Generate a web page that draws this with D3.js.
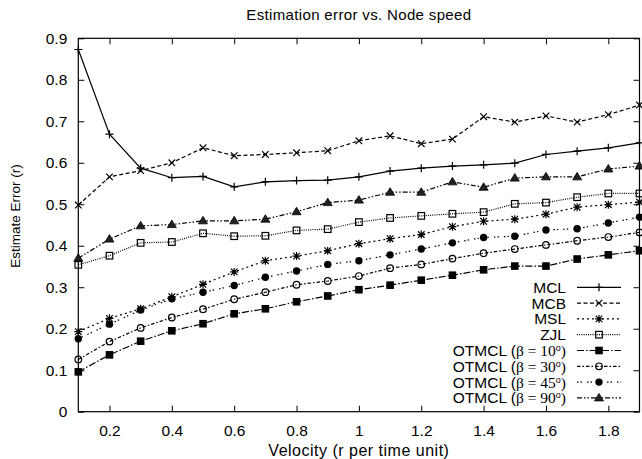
<!DOCTYPE html>
<html><head><meta charset="utf-8">
<script src="https://cdn.jsdelivr.net/npm/d3@7"></script>
<style>body{margin:0;background:#fff}</style>
</head><body>
<script>
const velocity = [0.1,0.2,0.3,0.4,0.5,0.6,0.7,0.8,0.9,1.0,1.1,1.2,1.3,1.4,1.5,1.6,1.7,1.8,1.9];
const MCL    = [0.873,0.669,0.587,0.564,0.567,0.542,0.554,0.557,0.558,0.566,0.580,0.587,0.592,0.595,0.599,0.620,0.628,0.636,0.648];
const MCB    = [0.498,0.566,0.581,0.600,0.636,0.617,0.620,0.624,0.629,0.653,0.665,0.646,0.657,0.711,0.698,0.713,0.698,0.716,0.739];
const MSL    = [0.193,0.225,0.248,0.277,0.307,0.337,0.364,0.375,0.388,0.405,0.417,0.427,0.446,0.459,0.464,0.476,0.493,0.499,0.505];
const ZJL    = [0.354,0.376,0.407,0.409,0.430,0.423,0.424,0.437,0.440,0.457,0.467,0.472,0.477,0.481,0.501,0.504,0.517,0.526,0.526];
const OT10   = [0.096,0.137,0.170,0.195,0.212,0.236,0.248,0.265,0.279,0.294,0.305,0.317,0.329,0.342,0.351,0.351,0.368,0.378,0.388];
const OT30   = [0.126,0.169,0.202,0.227,0.247,0.271,0.288,0.306,0.315,0.327,0.346,0.355,0.369,0.382,0.392,0.402,0.412,0.421,0.432];
const OT45   = [0.176,0.211,0.245,0.272,0.288,0.304,0.324,0.339,0.355,0.364,0.378,0.392,0.407,0.420,0.423,0.438,0.441,0.455,0.469];
const OT90   = [0.370,0.416,0.448,0.451,0.460,0.460,0.464,0.482,0.504,0.510,0.529,0.529,0.554,0.541,0.563,0.566,0.566,0.585,0.592];
const seriesNames = ["MCL","MCB","MSL","ZJL","OTMCL10","OTMCL30","OTMCL45","OTMCL90"];
const betaLabels = {OTMCL10:"10",OTMCL30:"30",OTMCL45:"45",OTMCL90:"90"};
const xTicks = [0.2,0.4,0.6,0.8,1.0,1.2,1.4,1.6,1.8];
const yTicks = [0,0.1,0.2,0.3,0.4,0.5,0.6,0.7,0.8,0.9];
const title = "Estimation error vs. Node speed";
const xLabel = "Velocity (r per time unit)";
const yLabel = "Estimate Error (r)";

const dataBy = {MCL, MCB, MSL, ZJL, OTMCL10: OT10, OTMCL30: OT30, OTMCL45: OT45, OTMCL90: OT90};
const style = {
  MCL:     {dash: null,               marker: "plus"},
  MCB:     {dash: "4,2.5",            marker: "cross"},
  MSL:     {dash: "2,3",              marker: "star"},
  ZJL:     {dash: "1,1.2",            marker: "square"},
  OTMCL10: {dash: "7,2,1.5,2",        marker: "fsquare"},
  OTMCL30: {dash: "3.5,2,1.5,2",      marker: "circle"},
  OTMCL45: {dash: "1.5,2,1.5,5",      marker: "fcircle"},
  OTMCL90: {dash: "5,2,1.5,2,1.5,2",  marker: "ftriangle"}
};

const W = 642, H = 459;
const m = {left: 78.3, right: 2.5, top: 38.3, bottom: 47.3};
const svg = d3.select("body").append("svg").attr("width", W).attr("height", H)
  .style("font-family", "'Liberation Sans', Arial, sans-serif");

const x = d3.scaleLinear().domain([0.1, 1.9]).range([m.left, W - m.right]);
const y = d3.scaleLinear().domain([0, 0.9]).range([H - m.bottom, m.top]);

const fmt = d => d === 0 ? "0" : (d === 1 ? "1" : d3.format(".1f")(d));
const gx = svg.append("g").attr("transform", `translate(0,${y(0)})`)
  .call(d3.axisBottom(x).tickValues(xTicks).tickSizeInner(-6).tickSizeOuter(0).tickPadding(13).tickFormat(fmt));
const gxt = svg.append("g").attr("transform", `translate(0,${y(0.9)})`)
  .call(d3.axisTop(x).tickValues(xTicks).tickSizeInner(-6).tickSizeOuter(0).tickFormat(""));
const gy = svg.append("g").attr("transform", `translate(${x(0.1)},0)`)
  .call(d3.axisLeft(y).tickValues(yTicks).tickSizeInner(-6).tickSizeOuter(0).tickPadding(11).tickFormat(fmt));
const gyr = svg.append("g").attr("transform", `translate(${x(1.9)},0)`)
  .call(d3.axisRight(y).tickValues(yTicks).tickSizeInner(-6).tickSizeOuter(0).tickFormat(""));
[gx, gxt, gy, gyr].forEach(g => {
  g.select(".domain").remove();
  g.selectAll("line").attr("stroke", "#000").attr("stroke-width", 1);
  g.selectAll("text").attr("fill", "#000").style("font-size", "15.5px").style("font-family", "'Liberation Sans', Arial, sans-serif");
});
svg.append("rect").attr("x", x(0.1)).attr("y", y(0.9))
  .attr("width", x(1.9) - x(0.1)).attr("height", y(0) - y(0.9))
  .attr("fill", "none").attr("stroke", "#000").attr("stroke-width", 1.2);

svg.append("text").attr("x", (x(0.1) + x(1.9)) / 2).attr("y", 20).attr("text-anchor", "middle")
  .style("font-size", "15px").style("letter-spacing", "0.35px").text(title);
svg.append("text").attr("x", (x(0.1) + x(1.9)) / 2).attr("y", 456).attr("text-anchor", "middle")
  .style("font-size", "16px").style("letter-spacing", "0.5px").text(xLabel);
svg.append("text").attr("transform", `translate(20,216) rotate(-90)`).attr("text-anchor", "middle")
  .style("font-size", "13.5px").text(yLabel);

function drawMarker(g, type, cx, cy) {
  const s = 4;
  if (type === "plus") {
    g.append("path").attr("d", `M${cx - s},${cy}H${cx + s}M${cx},${cy - s}V${cy + s}`).attr("stroke", "#000").attr("stroke-width", 1.2);
  } else if (type === "cross") {
    const c = 3.3;
    g.append("path").attr("d", `M${cx - c},${cy - c}L${cx + c},${cy + c}M${cx - c},${cy + c}L${cx + c},${cy - c}`).attr("stroke", "#000").attr("stroke-width", 1.2);
  } else if (type === "star") {
    const c = 3.3;
    g.append("path").attr("d", `M${cx - s},${cy}H${cx + s}M${cx},${cy - s}V${cy + s}M${cx - c},${cy - c}L${cx + c},${cy + c}M${cx - c},${cy + c}L${cx + c},${cy - c}`).attr("stroke", "#000").attr("stroke-width", 1.2);
  } else if (type === "square") {
    g.append("rect").attr("x", cx - 3.3).attr("y", cy - 3.3).attr("width", 6.6).attr("height", 6.6).attr("fill", "none").attr("stroke", "#000").attr("stroke-width", 1.2);
  } else if (type === "fsquare") {
    g.append("rect").attr("x", cx - 3.8).attr("y", cy - 3.8).attr("width", 7.6).attr("height", 7.6).attr("fill", "#000");
  } else if (type === "circle") {
    g.append("circle").attr("cx", cx).attr("cy", cy).attr("r", 3.3).attr("fill", "none").attr("stroke", "#000").attr("stroke-width", 1.2);
  } else if (type === "fcircle") {
    g.append("circle").attr("cx", cx).attr("cy", cy).attr("r", 3.7).attr("fill", "#000");
  } else if (type === "ftriangle") {
    g.append("path").attr("d", `M${cx},${cy - 4.5}L${cx + 4.5},${cy + 3}L${cx - 4.5},${cy + 3}Z`).attr("fill", "#222").attr("stroke", "#000").attr("stroke-width", 0.8);
  }
}

const line = d3.line().x((d, i) => x(velocity[i])).y(d => y(d));
const plot = svg.append("g");
seriesNames.slice().reverse().forEach(name => {
  const st = style[name];
  const g = plot.append("g");
  g.append("path").datum(dataBy[name]).attr("d", line).attr("fill", "none")
    .attr("stroke", "#000").attr("stroke-width", 1.2).attr("stroke-dasharray", st.dash);
  dataBy[name].forEach((v, i) => drawMarker(g, st.marker, x(velocity[i]), y(v)));
});

const legY0 = 287.3, legDy = 15.8, textEnd = 566, lx0 = 577, lx1 = 621;
seriesNames.forEach((name, i) => {
  const yy = legY0 + i * legDy;
  const st = style[name];
  const t = svg.append("text").attr("x", textEnd).attr("y", yy + 5.5).attr("text-anchor", "end").style("font-size", "15.5px");
  if (betaLabels[name]) {
    t.append("tspan").text("OTMCL (");
    t.append("tspan").style("font-family", "'Liberation Serif', 'Times New Roman', serif").text("β = " + betaLabels[name]);
    t.append("tspan").attr("dy", -5).style("font-size", "9px").text("o");
    t.append("tspan").attr("dy", 5).style("font-family", "'Liberation Serif', 'Times New Roman', serif").text(")");
  } else {
    t.text(name);
  }
  svg.append("line").attr("x1", lx0).attr("x2", lx1).attr("y1", yy).attr("y2", yy)
    .attr("stroke", "#000").attr("stroke-width", 1.2).attr("stroke-dasharray", st.dash);
  drawMarker(svg.append("g"), st.marker, (lx0 + lx1) / 2, yy);
});
</script>
</body></html>
